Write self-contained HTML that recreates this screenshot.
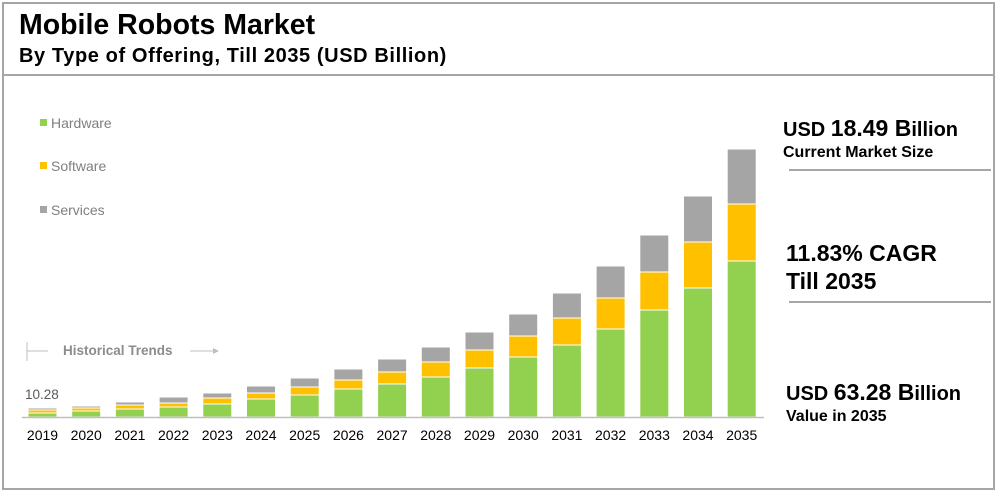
<!DOCTYPE html>
<html><head><meta charset="utf-8">
<style>
body{margin:0;width:1000px;height:492px;background:#fff;font-family:"Liberation Sans",Arial,sans-serif;overflow:hidden;position:relative}
.frame{position:absolute;left:2px;top:2px;width:989px;height:484px;border:2px solid #a6a6a6}
.sep{position:absolute;left:2px;top:74px;width:993px;height:2px;background:#a6a6a6}
.t{position:absolute;white-space:nowrap;color:#000;font-weight:bold}
.hl{position:absolute;height:2px;background:#a6a6a6}
</style></head><body>
<div class="frame"></div>
<div class="sep"></div>
<div class="t" style="left:19px;top:9px;font-size:28.5px">Mobile Robots Market</div>
<div class="t" style="left:19px;top:45px;font-size:20px;letter-spacing:0.6px">By Type of Offering, Till 2035 (USD Billion)</div>

<div class="t" style="left:783px;top:115px;font-size:20px">USD <span style="font-size:23px">18.49 B</span>illion</div>
<div class="t" style="left:783px;top:144px;font-size:16px">Current Market Size</div>
<div class="hl" style="left:789px;top:169px;width:202px"></div>
<div class="t" style="left:786px;top:240px;font-size:23px">11.83% CAGR</div>
<div class="t" style="left:786px;top:268px;font-size:23px">Till 2035</div>
<div class="hl" style="left:789px;top:301px;width:202px"></div>
<div class="t" style="left:786px;top:379px;font-size:20px">USD <span style="font-size:23px">63.28 B</span>illion</div>
<div class="t" style="left:786px;top:408px;font-size:16px">Value in 2035</div>

<svg id="chart" width="1000" height="492" style="position:absolute;left:0;top:0"></svg>
<script>
const years=["2019","2020","2021","2022","2023","2024","2025","2026","2027","2028","2029","2030","2031","2032","2033","2034","2035"];
const hardware=[4,6,8,10,13,18,22,28,33,40,49,60,72,88,107,129,156];
const software=[3,3,4,4,6,6,8,9,12,15,18,21,27,31,38,46,57];
const services=[2,2,3,6,5,7,9,11,13,15,18,22,25,32,37,46,55];
const seriesNames=["Hardware","Software","Services"];
const colors=["#92d050","#ffc000","#a5a5a5"];
const firstLabel="10.28";
const NS="http://www.w3.org/2000/svg";
const svg=document.getElementById('chart');
const baseY=417, x0=28, step=43.7, bw=29, scale=1;
function xPos(i){return x0+i*step;}
function yLen(v){return v*scale;}
function mk(tag,attrs){const e=document.createElementNS(NS,tag);for(const k in attrs)e.setAttribute(k,attrs[k]);svg.appendChild(e);return e;}
const data=[hardware,software,services];
years.forEach((y,i)=>{
  let top=baseY;
  data.forEach((s,si)=>{
    const h=yLen(s[i]);
    top-=h;
    const r=mk('rect',{x:xPos(i),y:top,width:bw,height:h,fill:colors[si],stroke:'#fff','stroke-width':1});
    
    
  });
  const t=mk('text',{x:xPos(i)+bw/2,y:440,'text-anchor':'middle','font-size':14,fill:'#000','font-family':'Liberation Sans, sans-serif'});
  t.textContent=y;
  
  
});
const ax=mk('line',{x1:22,x2:764,y1:baseY+0.5,y2:baseY+0.5,stroke:'#bfbfbf','stroke-width':1.5});


const vl=mk('text',{x:xPos(0)-3,y:399,'font-size':13.5,fill:'#595959','font-family':'Liberation Sans, sans-serif'});
vl.textContent=firstLabel;


const ly=[123,166,210];
seriesNames.forEach((n,i)=>{
  const r=mk('rect',{x:40,y:ly[i]-4,width:7,height:7,fill:colors[i]});
  
  
  const t=mk('text',{x:51,y:ly[i]+5,'font-size':14,fill:'#7f7f7f','font-family':'Liberation Sans, sans-serif'});
  t.textContent=n;
  
  
});
const g1=mk('line',{x1:27,x2:27,y1:342,y2:361,stroke:'#bfbfbf','stroke-width':1});


const g2=mk('line',{x1:27,x2:48,y1:351,y2:351,stroke:'#bfbfbf','stroke-width':1});


const ht=mk('text',{x:63,y:355,'font-size':13.5,'font-weight':'bold',fill:'#8c8c8c','font-family':'Liberation Sans, sans-serif'});
ht.textContent="Historical Trends";


const g3=mk('line',{x1:190,x2:214,y1:351,y2:351,stroke:'#bfbfbf','stroke-width':1});


const g4=mk('polygon',{points:'213,348 219,351 213,354',fill:'#bfbfbf'});


</script>
</body></html>
